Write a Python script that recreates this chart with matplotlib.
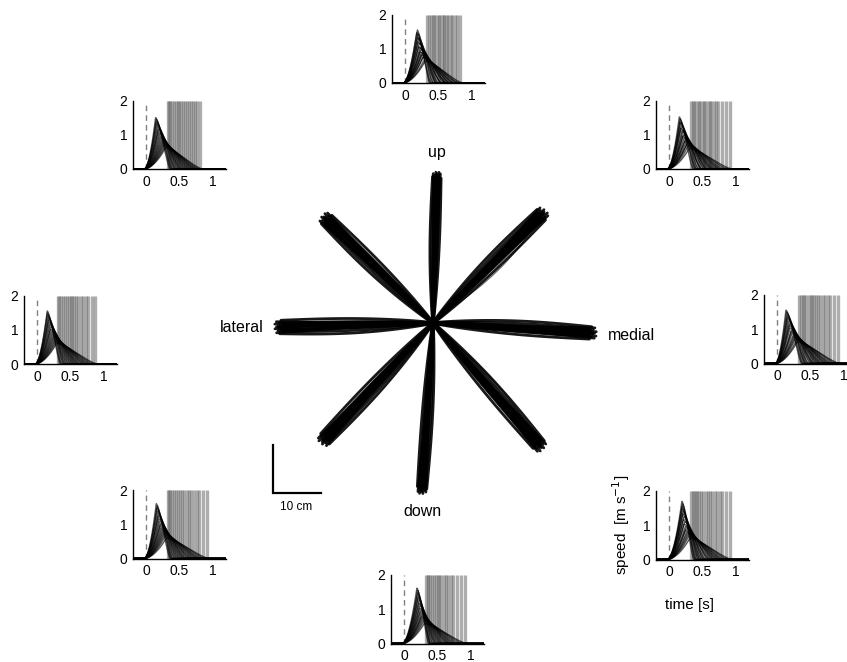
import numpy as np
import matplotlib.pyplot as plt

plt.rcParams['font.family'] = ['Liberation Sans', 'DejaVu Sans']

# ---- reach trajectories (cm) ----
arm_names = ['up', 'upper right', 'medial', 'lower right', 'down', 'lower left', 'lateral', 'upper left']
arm_angle = [88.5, 45.0, -3.6, -49.0, -93.8, -133.0, 181.5, 135.8]
arm_length = [30.8, 32.4, 33.4, 34.1, 34.9, 33.5, 32.3, 31.4]
arm_width = [0.9, 1.4, 1.3, 1.4, 1.0, 1.4, 1.4, 1.4]
arm_outlier_bow = [0.0, -2.2, -0.8, 2.0, 0.0, 1.0, 0.7, -0.6]
trace_offset = [-1.0, -0.8, -0.62, -0.45, -0.3, -0.15, 0.0, 0.1, 0.25, 0.4, 0.55, 0.7, 0.85, 1.0]
trace_bow = [-0.3, 0.2, -0.1, 0.3, -0.2, 0.1, 0.0, -0.3, 0.2, 0.1, -0.1, 0.3, -0.2, 0.5]
trace_reach = [0.98, 1.01, 0.99, 1.02, 0.97, 1.0, 1.01, 0.99, 1.02, 0.98, 1.0, 0.97, 1.01, 0.99]

# ---- speed profiles per target: peak speed (m/s), time of peak (s), stop time (s) ----
up_peak = [1.55, 1.47, 1.44, 1.33, 1.31, 1.20, 1.16, 1.06, 1.03, 0.97, 0.91, 0.89, 0.83, 0.81, 0.76, 0.75, 0.69, 0.64]
up_tpeak = [0.18, 0.17, 0.19, 0.18, 0.20, 0.19, 0.21, 0.20, 0.22, 0.23, 0.22, 0.24, 0.25, 0.24, 0.27, 0.26, 0.29, 0.30]
up_stop = [0.33, 0.35, 0.38, 0.42, 0.43, 0.46, 0.50, 0.51, 0.55, 0.58, 0.59, 0.63, 0.64, 0.69, 0.70, 0.75, 0.78, 0.83]

ur_peak = [1.52, 1.46, 1.38, 1.35, 1.26, 1.19, 1.12, 1.08, 1.00, 0.95, 0.90, 0.86, 0.82, 0.78, 0.75, 0.71, 0.66, 0.60]
ur_tpeak = [0.15, 0.16, 0.16, 0.17, 0.18, 0.17, 0.19, 0.20, 0.21, 0.20, 0.22, 0.24, 0.23, 0.25, 0.27, 0.26, 0.28, 0.30]
ur_stop = [0.32, 0.35, 0.37, 0.40, 0.44, 0.45, 0.49, 0.52, 0.54, 0.58, 0.61, 0.63, 0.67, 0.71, 0.74, 0.79, 0.85, 0.91]

med_peak = [1.56, 1.50, 1.44, 1.37, 1.31, 1.24, 1.17, 1.11, 1.04, 0.98, 0.93, 0.88, 0.84, 0.80, 0.76, 0.72, 0.68, 0.63]
med_tpeak = [0.13, 0.14, 0.15, 0.15, 0.16, 0.17, 0.18, 0.18, 0.19, 0.21, 0.21, 0.22, 0.24, 0.25, 0.26, 0.27, 0.29, 0.30]
med_stop = [0.33, 0.35, 0.38, 0.40, 0.43, 0.47, 0.50, 0.52, 0.56, 0.59, 0.62, 0.65, 0.69, 0.72, 0.76, 0.80, 0.86, 0.91]

lr_peak = [1.70, 1.62, 1.55, 1.47, 1.40, 1.33, 1.25, 1.17, 1.10, 1.03, 0.96, 0.90, 0.85, 0.80, 0.76, 0.72, 0.67, 0.62]
lr_tpeak = [0.19, 0.20, 0.19, 0.20, 0.21, 0.20, 0.22, 0.21, 0.23, 0.22, 0.24, 0.25, 0.24, 0.26, 0.27, 0.28, 0.29, 0.31]
lr_stop = [0.33, 0.35, 0.37, 0.40, 0.42, 0.45, 0.48, 0.51, 0.55, 0.58, 0.62, 0.65, 0.69, 0.72, 0.76, 0.80, 0.86, 0.91]

dn_peak = [1.62, 1.55, 1.48, 1.40, 1.33, 1.25, 1.17, 1.10, 1.03, 0.97, 0.91, 0.86, 0.81, 0.77, 0.73, 0.69, 0.64, 0.58]
dn_tpeak = [0.19, 0.20, 0.20, 0.21, 0.21, 0.22, 0.22, 0.23, 0.23, 0.24, 0.24, 0.25, 0.26, 0.26, 0.27, 0.28, 0.29, 0.30]
dn_stop = [0.33, 0.35, 0.36, 0.39, 0.42, 0.44, 0.47, 0.50, 0.53, 0.56, 0.60, 0.63, 0.66, 0.70, 0.74, 0.79, 0.85, 0.91]

ll_peak = [1.60, 1.53, 1.46, 1.38, 1.31, 1.24, 1.16, 1.09, 1.02, 0.96, 0.90, 0.85, 0.81, 0.77, 0.73, 0.69, 0.64, 0.59]
ll_tpeak = [0.15, 0.16, 0.16, 0.17, 0.18, 0.18, 0.19, 0.20, 0.21, 0.21, 0.22, 0.23, 0.24, 0.25, 0.26, 0.27, 0.28, 0.30]
ll_stop = [0.32, 0.34, 0.36, 0.39, 0.42, 0.45, 0.48, 0.51, 0.54, 0.57, 0.61, 0.64, 0.68, 0.72, 0.76, 0.80, 0.86, 0.91]

lat_peak = [1.55, 1.49, 1.42, 1.36, 1.29, 1.22, 1.15, 1.08, 1.01, 0.95, 0.89, 0.84, 0.80, 0.76, 0.72, 0.68, 0.64, 0.60]
lat_tpeak = [0.15, 0.15, 0.16, 0.17, 0.17, 0.18, 0.19, 0.20, 0.20, 0.21, 0.22, 0.23, 0.24, 0.25, 0.26, 0.27, 0.28, 0.29]
lat_stop = [0.31, 0.33, 0.36, 0.38, 0.41, 0.44, 0.47, 0.50, 0.53, 0.56, 0.59, 0.62, 0.66, 0.69, 0.73, 0.77, 0.82, 0.87]

ul_peak = [1.50, 1.45, 1.39, 1.33, 1.27, 1.20, 1.14, 1.07, 1.01, 0.95, 0.90, 0.85, 0.81, 0.77, 0.74, 0.70, 0.66, 0.62]
ul_tpeak = [0.14, 0.15, 0.15, 0.16, 0.17, 0.18, 0.18, 0.19, 0.20, 0.21, 0.22, 0.23, 0.24, 0.25, 0.26, 0.27, 0.28, 0.29]
ul_stop = [0.32, 0.34, 0.36, 0.39, 0.41, 0.44, 0.47, 0.49, 0.52, 0.55, 0.58, 0.61, 0.64, 0.67, 0.70, 0.73, 0.77, 0.81]

xtick_vals = [0, 0.5, 1]
xtick_labels = ['0', '0.5', '1']
ytick_vals = [0, 1, 2]

W, H = 847, 662
fig = plt.figure(figsize=(W / 100, H / 100), dpi=100)

# main axes in cm, centre of the star at pixel (433, 323), 4.8 px per cm
PX = 4.8
ax = fig.add_axes([0, 0, 1, 1])
ax.set_xlim(-433 / PX, (W - 433) / PX)
ax.set_ylim(-(H - 323) / PX, 323 / PX)
ax.axis('off')

s = np.linspace(0, 1, 60)
for ang, L, w, ob in zip(arm_angle, arm_length, arm_width, arm_outlier_bow):
    a = np.deg2rad(ang)
    ux, uy = np.cos(a), np.sin(a)
    nx, ny = -uy, ux
    if ob != 0:
        along = L * s
        lat = ob * np.sin(np.pi * s) * s ** 0.3
        ax.plot(along * ux + lat * nx, along * uy + lat * ny, color='0.35', lw=0.8, alpha=0.9)
    for off, bow, r in zip(trace_offset, trace_bow, trace_reach):
        along = L * r * s
        lat = w * off * s ** 0.6 + w * bow * np.sin(np.pi * s)
        ax.plot(along * ux + lat * nx, along * uy + lat * ny, color='k', lw=2.0, alpha=0.9,
                solid_capstyle='round')

txt = dict(ha='center', va='center', fontsize=11.5)
ax.text(0.8, 35.6, 'up', **txt)
ax.text(-2.3, -39.2, 'down', **txt)
ax.text(-39.8, -1.0, 'lateral', **txt)
ax.text(41.3, -2.6, 'medial', **txt)

# scale bar, 10 cm each way
bx, by = -33.3, -35.4
ax.plot([bx, bx, bx + 10], [by + 10, by, by], color='k', lw=1.6, solid_joinstyle='miter')
ax.text(bx + 4.8, by - 3.0, '10 cm', ha='center', va='center', fontsize=8.5)

# ---- small speed panels ----
panels = [
    (up_peak, up_tpeak, up_stop, 392, 83),
    (ur_peak, ur_tpeak, ur_stop, 656, 169),
    (med_peak, med_tpeak, med_stop, 764, 363.5),
    (lr_peak, lr_tpeak, lr_stop, 656, 559.5),
    (dn_peak, dn_tpeak, dn_stop, 391, 643.5),
    (ll_peak, ll_tpeak, ll_stop, 133, 558.5),
    (lat_peak, lat_tpeak, lat_stop, 24, 364),
    (ul_peak, ul_tpeak, ul_stop, 133, 169),
]

t = np.linspace(-0.2, 1.2, 400)


def speed_profile(pk, tp, ts):
    v = np.zeros_like(t)
    rise = (t > -0.03) & (t <= tp)
    v[rise] = pk * ((t[rise] + 0.03) / (tp + 0.03)) ** 1.8
    te = ts + 0.04
    fall = (t > tp) & (t < te)
    f = (t[fall] - tp) / (te - tp)
    v[fall] = pk * (1 - f ** 1.5) ** 1.5
    return v


pw, ph = 93, 68.5
for k, (pks, tps, stops, left, base) in enumerate(panels):
    axp = fig.add_axes([left / W, (H - base) / H, pw / W, ph / H])
    axp.patch.set_alpha(0)
    axp.vlines(stops, 0, 2, color='0.42', lw=2.4, alpha=0.55, zorder=1)
    axp.plot([0, 0], [0, 2], color='0.5', ls=(0, (4, 3)), lw=1.0, zorder=2)
    for pk, tp, ts in zip(pks, tps, stops):
        axp.plot(t, speed_profile(pk, tp, ts), color='k', lw=1.0, alpha=0.65, zorder=3)
    axp.set_xlim(-0.2, 1.2)
    axp.set_ylim(0, 2)
    for sp in ['top', 'right']:
        axp.spines[sp].set_visible(False)
    for sp in ['left', 'bottom']:
        axp.spines[sp].set_linewidth(1.0)
    axp.set_xticks(xtick_vals)
    axp.set_xticklabels(xtick_labels)
    axp.set_yticks(ytick_vals)
    axp.tick_params(length=0, labelsize=10)
    axp.tick_params(axis='x', pad=4)
    axp.tick_params(axis='y', pad=4)
    if k == 3:
        axp.text(-0.37, 0.5, 'speed  [m s$^{-1}$]', transform=axp.transAxes,
                 rotation=90, ha='center', va='center', fontsize=11)
        axp.text(0.36, -0.66, 'time [s]', transform=axp.transAxes,
                 ha='center', va='center', fontsize=11)

fig.savefig('out.png', dpi=100)
